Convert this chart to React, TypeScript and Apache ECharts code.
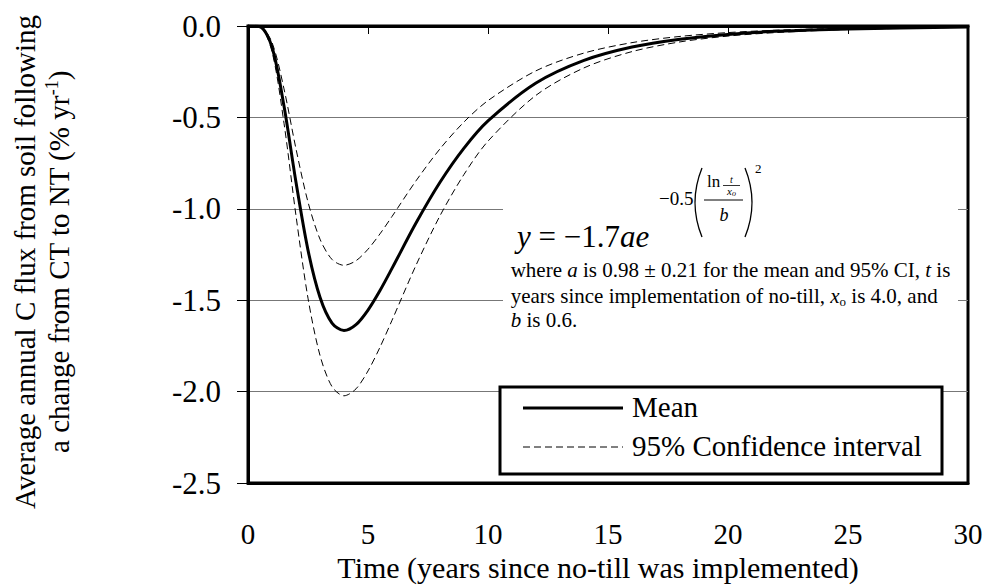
import React, { useEffect, useRef } from "react";
import * as echarts from "echarts";

// Years since no-till was implemented
const years = [0, 0.5, 1, 1.5, 2, 2.5, 3, 3.5, 4, 4.5, 5, 5.5, 6, 7, 8, 9, 10, 12, 14, 16, 18, 20, 22, 25, 30];
// Mean annual C flux (% yr-1)
const meanFlux = [0, -0.004, -0.115, -0.438, -0.855, -1.226, -1.484, -1.625, -1.666, -1.634, -1.554, -1.447, -1.326, -1.078, -0.855, -0.668, -0.519, -0.312, -0.188, -0.115, -0.072, -0.046, -0.029, -0.016, -0.006];
// Upper 95% confidence bound
const upperCI = [0, -0.003, -0.09, -0.344, -0.672, -0.963, -1.166, -1.277, -1.309, -1.284, -1.221, -1.137, -1.042, -0.847, -0.672, -0.525, -0.408, -0.245, -0.148, -0.091, -0.057, -0.036, -0.023, -0.012, -0.005];
// Lower 95% confidence bound
const lowerCI = [0, -0.005, -0.14, -0.532, -1.038, -1.489, -1.802, -1.973, -2.023, -1.985, -1.887, -1.757, -1.61, -1.309, -1.038, -0.812, -0.63, -0.379, -0.229, -0.14, -0.087, -0.055, -0.036, -0.019, -0.007];

const seriesNames = ["Mean", "95% Confidence interval"];
const xTitle = "Time (years since no-till was implemented)";
const yTitleLine1 = "Average annual C flux from soil following";
const yTitleLine2 = "a change from CT to NT (% yr{sup|-1})";
const noteLines = [
  "where {i|a} is 0.98 ± 0.21 for the mean and 95% CI, {i|t} is",
  "years since implementation of no-till, {i|x}{sub|o} is 4.0, and",
  "{i|b} is 0.6.",
];

const FONT = "Liberation Serif";

export default function App() {
  const ref = useRef<HTMLDivElement>(null);

  useEffect(() => {
    document.body.style.margin = "0";
    const chart = echarts.init(ref.current as HTMLDivElement, null, { renderer: "svg" });
    const pairs = (ys: number[]) => years.map((t, i) => [t, ys[i]]);

    const txt = (x: number, y: number, text: string, fontSize: number, extra: any = {}, style: any = {}) => ({
      type: "text",
      x,
      y,
      z: 6,
      silent: true,
      ...extra,
      style: {
        text,
        fontSize,
        fontFamily: FONT,
        fill: "#000",
        align: "left",
        verticalAlign: "middle",
        ...style,
      },
    });

    const italicRich = (fs: number) => ({
      i: { fontStyle: "italic", fontSize: fs, fontFamily: FONT, fill: "#000", lineHeight: fs + 3 },
      sub: { fontSize: Math.round(fs * 0.62), fontFamily: FONT, fill: "#000", lineHeight: Math.round(fs * 0.62), verticalAlign: "bottom" },
    });

    const option: any = {
      animation: false,
      textStyle: { fontFamily: FONT },
      grid: {
        left: 248,
        right: 20,
        top: 26,
        bottom: 105,
        show: true,
        borderColor: "#000",
        borderWidth: 3,
        backgroundColor: "transparent",
      },
      xAxis: [
        {
          type: "value",
          position: "bottom",
          min: 0,
          max: 30,
          interval: 5,
          axisLine: { show: true, onZero: false, lineStyle: { color: "#000", width: 3 } },
          axisTick: { show: false },
          axisLabel: { margin: 36, fontSize: 29, color: "#000", fontFamily: FONT },
          splitLine: { show: false },
          name: xTitle,
          nameLocation: "middle",
          nameGap: 66,
          nameTextStyle: { fontSize: 30, color: "#000", fontFamily: FONT, padding: [0, 20, 0, 0] },
        },
        {
          type: "value",
          position: "top",
          min: 0,
          max: 30,
          interval: 5,
          axisLine: { show: true, onZero: false, lineStyle: { color: "#000", width: 3 } },
          axisTick: { show: true, inside: true, length: 8, lineStyle: { color: "#000", width: 1 } },
          axisLabel: { show: false },
          splitLine: { show: false },
        },
      ],
      yAxis: {
        type: "value",
        min: -2.5,
        max: 0,
        interval: 0.5,
        axisLine: { show: true, onZero: false, lineStyle: { color: "#000", width: 3 } },
        axisTick: { show: true, length: 11, lineStyle: { color: "#000", width: 1 } },
        axisLabel: {
          margin: 27,
          fontSize: 31,
          color: "#000",
          fontFamily: FONT,
          formatter: (v: number) => (Math.abs(v) < 1e-9 ? "0.0" : v.toFixed(1)),
        },
        splitLine: {
          show: true,
          showMinLine: false,
          showMaxLine: false,
          lineStyle: { color: "#777", width: 1 },
        },
      },
      series: [
        {
          name: seriesNames[0],
          type: "line",
          data: pairs(meanFlux),
          symbol: "none",
          smooth: 0.3,
          z: 4,
          itemStyle: { color: "#000" },
          lineStyle: { color: "#000", width: 3 },
        },
        {
          name: seriesNames[1],
          type: "line",
          data: pairs(upperCI),
          symbol: "none",
          smooth: 0.3,
          z: 3,
          itemStyle: { color: "#000" },
          lineStyle: { color: "#000", width: 1, type: [7, 4] },
        },
        {
          name: seriesNames[1],
          type: "line",
          data: pairs(lowerCI),
          symbol: "none",
          smooth: 0.3,
          z: 3,
          itemStyle: { color: "#000" },
          lineStyle: { color: "#000", width: 1, type: [7, 4] },
        },
      ],
      graphic: [
        // white box behind the equation (covers gridlines)
        { type: "rect", z: 1, silent: true, shape: { x: 503, y: 140, width: 455, height: 195 }, style: { fill: "#fff" } },
        // legend frame and entries
        { type: "rect", z: 5, silent: true, shape: { x: 500, y: 387, width: 442, height: 87 }, style: { fill: "#fff", stroke: "#000", lineWidth: 3 } },
        { type: "line", z: 6, silent: true, shape: { x1: 523, y1: 408, x2: 623, y2: 408 }, style: { stroke: "#000", lineWidth: 3 } },
        { type: "line", z: 6, silent: true, shape: { x1: 523, y1: 447, x2: 623, y2: 447 }, style: { stroke: "#000", lineWidth: 1, lineDash: [7, 4] } },
        txt(632, 407, seriesNames[0], 29),
        txt(632, 446, seriesNames[1], 29),
        // equation
        txt(517, 236.5, "{i|y} = −1.7{i|ae}", 31, {}, { rich: { i: { fontStyle: "italic", fontSize: 31, fontFamily: FONT, fill: "#000" } } }),
        txt(659, 198.5, "−0.5", 19),
        {
          type: "bezierCurve", z: 6, silent: true,
          shape: { x1: 702, y1: 168, x2: 702, y2: 237, cpx1: 688, cpy1: 202.5 },
          style: { stroke: "#000", lineWidth: 1.3, fill: "none" },
        },
        {
          type: "bezierCurve", z: 6, silent: true,
          shape: { x1: 745, y1: 168, x2: 745, y2: 237, cpx1: 759, cpy1: 202.5 },
          style: { stroke: "#000", lineWidth: 1.3, fill: "none" },
        },
        txt(755, 168.6, "2", 13),
        txt(707, 181, "ln", 17),
        txt(731.5, 179.6, "t", 10, {}, { align: "center", fontStyle: "italic" }),
        { type: "line", z: 6, silent: true, shape: { x1: 723, y1: 185.5, x2: 740, y2: 185.5 }, style: { stroke: "#000", lineWidth: 0.8 } },
        txt(731.5, 191, "{i|x}{sub|o}", 11, {}, {
          align: "center",
          rich: {
            i: { fontStyle: "italic", fontSize: 11, fontFamily: FONT, fill: "#000", lineHeight: 13 },
            sub: { fontStyle: "italic", fontSize: 8, fontFamily: FONT, fill: "#000", lineHeight: 8, verticalAlign: "bottom" },
          },
        }),
        { type: "line", z: 6, silent: true, shape: { x1: 704, y1: 200, x2: 743, y2: 200 }, style: { stroke: "#000", lineWidth: 1 } },
        txt(724, 215, "b", 18, {}, { align: "center", fontStyle: "italic" }),
        // explanatory note
        ...noteLines.map((line, i) =>
          txt(510.7, [269.6, 295.6, 319.6][i], line, 21, {}, { rich: italicRich(21), lineHeight: 24 })
        ),
        // y axis title
        txt(24.5, 262, yTitleLine1, 29, { rotation: Math.PI / 2 }, { align: "center" }),
        txt(58.5, 262, yTitleLine2, 29, { rotation: Math.PI / 2 }, {
          align: "center",
          lineHeight: 32,
          rich: { sup: { fontSize: 18, fontFamily: FONT, fill: "#000", lineHeight: 18, verticalAlign: "top" } },
        }),
      ],
    };

    chart.setOption(option);
    return () => {
      chart.dispose();
    };
  }, []);

  return <div ref={ref} style={{ width: 988, height: 588 }} />;
}
